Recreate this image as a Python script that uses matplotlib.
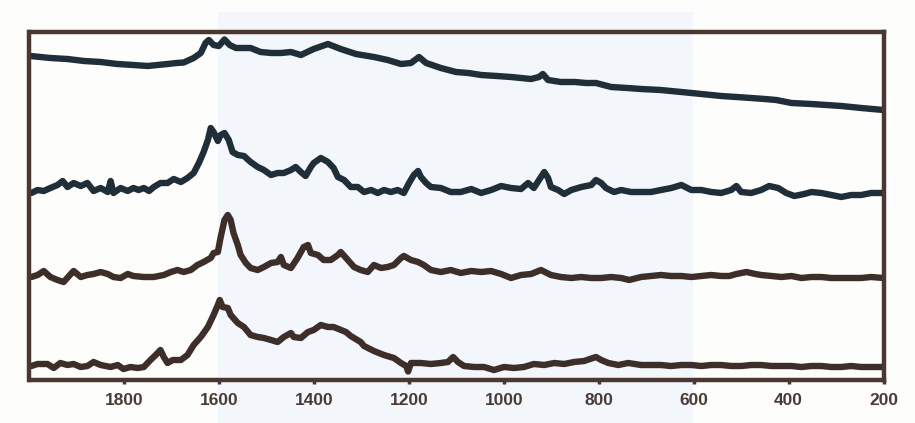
import matplotlib
matplotlib.use("Agg")
import matplotlib.pyplot as plt
from matplotlib.patches import Rectangle

# ---- data (Raman shift, cm-1  /  intensity, arbitrary units, stacked) ----
wn_a = [1998, 1956, 1920, 1885, 1850, 1815, 1781, 1751, 1730, 1709, 1690, 1675, 1654, 1639,
        1629, 1622, 1612, 1601, 1589, 1578, 1565, 1550, 1534, 1513, 1490, 1470, 1449, 1428,
        1401, 1371, 1344, 1312, 1274, 1245, 1217, 1196, 1179, 1164, 1133, 1101, 1075, 1048,
        1015, 985, 943, 926, 918, 907, 880, 850, 827, 806, 774, 740, 711, 670, 626, 584,
        542, 510, 479, 450, 426, 394, 352, 320, 289, 247, 200]
int_a = [322, 320, 319, 317, 316, 314, 313, 312, 313, 314, 315, 315.5, 320, 325,
         335, 338, 333, 332, 338.5, 333, 330, 330, 330, 326, 325, 325, 326, 323,
         329, 334, 329, 324, 321, 318, 314, 315, 321, 315, 310, 306, 305, 303,
         302, 301, 299, 301, 304, 298, 296, 296, 295, 295, 291, 290, 289, 288, 286, 284,
         282, 281, 280, 279, 278, 275, 274, 273, 272, 270, 268]

wn_b = [1996, 1983, 1970, 1956, 1941, 1930, 1920, 1907, 1892, 1878, 1865, 1850, 1835, 1829,
        1823, 1808, 1793, 1781, 1770, 1759, 1748, 1738, 1724, 1709, 1696, 1681, 1667, 1654,
        1643, 1633, 1624, 1618, 1612, 1603, 1597, 1589, 1580, 1572, 1561, 1548, 1534, 1519,
        1506, 1491, 1477, 1464, 1449, 1439, 1428, 1418, 1407, 1401, 1386, 1371, 1359, 1350,
        1337, 1323, 1308, 1295, 1280, 1266, 1253, 1238, 1224, 1211, 1200, 1190, 1181, 1175,
        1164, 1154, 1133, 1112, 1091, 1069, 1048, 1027, 1006, 985, 964, 949, 937, 922, 915,
        907, 901, 886, 873, 858, 837, 816, 806, 795, 785, 768, 753, 732, 711, 690, 669,
        647, 626, 605, 584, 563, 542, 521, 510, 500, 479, 458, 441, 422, 405, 388, 367,
        352, 331, 310, 289, 268, 247, 226, 200]
int_b = [185, 188, 187, 190, 193, 197, 191, 195, 192, 195, 187, 190, 186, 197,
         185, 190, 187, 190, 188, 190, 187, 191, 195, 195, 199, 196, 200, 205,
         215, 226, 238, 250, 246, 237, 243, 245, 238, 226, 223, 222, 216, 211,
         208, 203, 205, 205, 208, 211, 206, 202, 211, 215, 220, 216, 210, 201,
         198, 191, 191, 186, 188, 185, 188, 186, 188, 185, 195, 203, 207, 201,
         195, 191, 190, 186, 186, 189, 185, 188, 192, 190, 189, 195, 190, 201, 206,
         200, 191, 188, 184, 188, 191, 193, 198, 195, 190, 186, 188, 186, 186, 186, 188,
         190, 193, 188, 188, 186, 185, 188, 192, 186, 185, 188, 192, 190, 185, 182, 184,
         186, 185, 183, 181, 183, 183, 185, 185]

wn_c = [1996, 1983, 1970, 1956, 1941, 1928, 1913, 1907, 1892, 1878, 1865, 1850, 1835, 1823,
        1808, 1793, 1781, 1759, 1738, 1717, 1702, 1688, 1675, 1660, 1646, 1633, 1618, 1612,
        1603, 1597, 1589, 1582, 1576, 1570, 1561, 1555, 1544, 1534, 1519, 1506, 1491, 1477,
        1470, 1464, 1449, 1435, 1422, 1413, 1407, 1392, 1380, 1365, 1350, 1344, 1329, 1316,
        1302, 1287, 1274, 1259, 1245, 1232, 1217, 1211, 1196, 1181, 1169, 1154, 1133, 1112,
        1091, 1069, 1048, 1027, 1006, 985, 964, 943, 922, 901, 880, 858, 837, 816, 795,
        774, 753, 736, 711, 690, 669, 648, 626, 605, 584, 563, 542, 525, 510, 489, 470,
        458, 436, 415, 394, 373, 352, 331, 310, 289, 268, 247, 226, 200]
int_c = [101, 103, 107, 101, 98, 96, 104, 107, 101, 103, 104, 106, 104, 101,
         100, 104, 102, 101, 101, 103, 106, 108, 106, 108, 113, 116, 120, 125,
         126, 141, 158, 163, 158, 145, 133, 123, 115, 110, 108, 111, 115, 116,
         121, 113, 110, 120, 131, 133, 125, 123, 118, 118, 123, 126, 118, 111,
         108, 106, 113, 110, 111, 113, 120, 122, 118, 116, 113, 108, 106, 108,
         105, 107, 106, 107, 104, 100, 103, 104, 108, 103, 101, 100, 101, 100, 100,
         101, 100, 98, 101, 102, 103, 102, 102, 101, 102, 103, 102, 102, 104, 106, 104,
         103, 102, 101, 102, 100, 101, 101, 100, 100, 100, 100, 101, 100]

wn_d = [1996, 1983, 1962, 1949, 1935, 1920, 1907, 1892, 1878, 1865, 1850, 1829, 1814, 1802,
        1787, 1772, 1759, 1751, 1745, 1734, 1724, 1717, 1709, 1698, 1681, 1667, 1654, 1639,
        1624, 1612, 1603, 1599, 1593, 1582, 1576, 1561, 1548, 1534, 1519, 1506, 1491, 1477,
        1464, 1449, 1443, 1428, 1413, 1401, 1386, 1371, 1359, 1333, 1323, 1302, 1295, 1274,
        1253, 1232, 1217, 1206, 1202, 1196, 1175, 1154, 1133, 1118, 1107, 1097, 1084, 1063,
        1042, 1021, 1000, 979, 958, 937, 915, 894, 873, 852, 831, 806, 795, 780, 759, 738,
        711, 690, 669, 648, 626, 605, 584, 563, 542, 521, 500, 479, 458, 436, 415, 394,
        373, 352, 331, 310, 289, 268, 247, 226, 200]
int_d = [12, 14, 14, 10, 15, 13, 14, 11, 12, 16, 13, 11, 13, 9,
         11, 10, 11, 15, 18, 23, 28, 21, 15, 18, 18, 23, 33, 41,
         51, 63, 73, 78, 71, 70, 63, 55, 51, 43, 41, 40, 38, 36,
         41, 45, 41, 40, 46, 48, 53, 51, 51, 46, 42, 36, 32, 27,
         23, 20, 15, 12, 6.5, 15, 15, 14, 15, 16, 21, 16, 12, 11,
         11, 8, 11, 10, 11, 14, 13, 15, 14, 16, 17, 21, 18, 15, 13, 15,
         13, 13, 13, 12, 13, 13, 12, 13, 13, 12, 12, 13, 13, 12, 12, 12,
         11, 12, 12, 11, 11, 12, 11, 11, 11]

xticks = [1800, 1600, 1400, 1200, 1000, 800, 600, 400, 200]

# ---- figure ----
W, H = 915, 423
fig = plt.figure(figsize=(W / 100, H / 100), dpi=100)
fig.patch.set_facecolor("#fdfdfb")
# faint bluish scanned band behind the middle of the plot
fig.patches.append(Rectangle((218 / W, 0), (693 - 218) / W, 1 - 12 / H,
                             transform=fig.transFigure, facecolor="#f3f6fa",
                             edgecolor="none", zorder=-10))

ax = fig.add_axes([29.5 / W, (H - 380) / H, 854 / W, 348 / H])
ax.set_facecolor("none")
ax.set_zorder(1)

dark = "#1f2e38"
brown = "#3d2e2a"
lw = 4.6
for wn, iv, c in [(wn_a, int_a, dark), (wn_b, int_b, dark),
                  (wn_c, int_c, brown), (wn_d, int_d, brown)]:
    ax.plot(wn, iv, color=c, lw=lw, solid_joinstyle="round", solid_capstyle="round")

ax.set_xlim(2000, 200)
ax.set_ylim(-2, 346)
ax.set_xticks(xticks)
ax.set_xticklabels([str(t) for t in xticks])
ax.set_yticks([])

frame = "#4a3731"
for s in ax.spines.values():
    s.set_color(frame)
    s.set_linewidth(3.2)
ax.tick_params(axis="x", direction="out", length=3, width=2.5, color=frame,
               pad=6, labelsize=12.5, labelcolor="#4a3b36")
for lab in ax.get_xticklabels():
    lab.set_fontfamily("Liberation Sans")
    lab.set_fontweight("bold")

fig.savefig("out.png", dpi=100, facecolor=fig.get_facecolor())
